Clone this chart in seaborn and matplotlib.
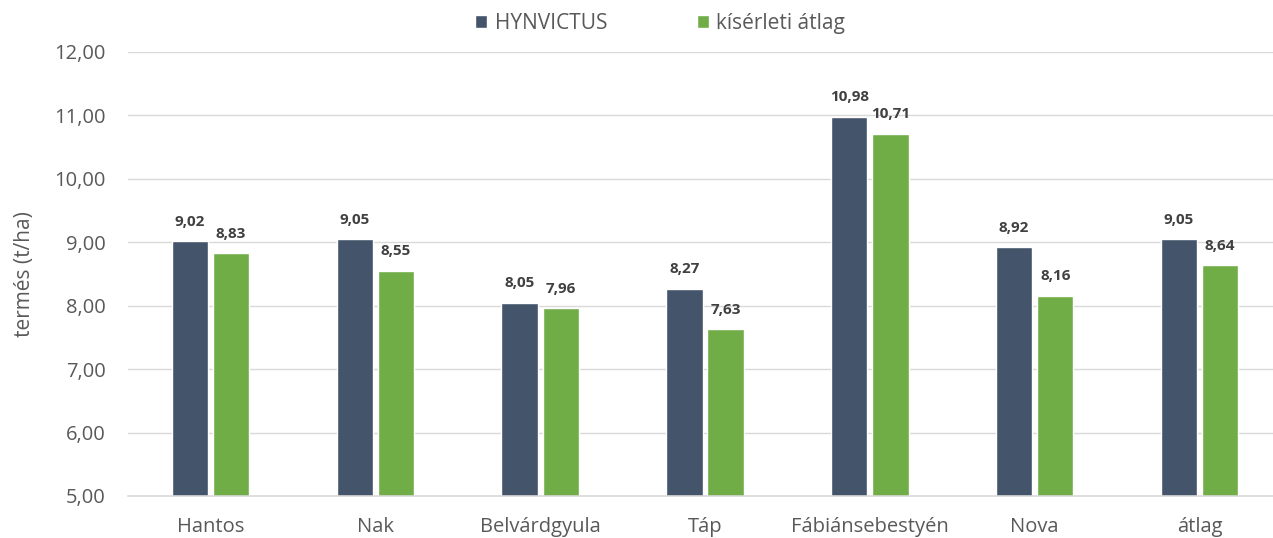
"""Hozam összehasonlítás: HYNVICTUS vs kísérleti átlag."""

import matplotlib
matplotlib.use("Agg")
import matplotlib.pyplot as plt
import matplotlib.ticker as mticker
import pandas as pd
import seaborn as sns

locations = ["Hantos", "Nak", "Belvárdgyula", "Táp", "Fábiánsebestyén", "Nova", "átlag"]
hynvictus = [9.02, 9.05, 8.05, 8.27, 10.98, 8.92, 9.05]
kiserleti_atlag = [8.83, 8.55, 7.96, 7.63, 10.71, 8.16, 8.64]
series_names = ["HYNVICTUS", "kísérleti átlag"]
palette = ["#44546A", "#70AD47"]

df = pd.DataFrame({
    "hely": locations * 2,
    "termes": hynvictus + kiserleti_atlag,
    "sorozat": [series_names[0]] * len(locations) + [series_names[1]] * len(locations),
})

sns.set_theme(style="white")
plt.rcParams["font.family"] = ["Open Sans", "DejaVu Sans"]
text_color = "#595959"

fig = plt.figure(figsize=(12.73, 5.38), dpi=100)
ax = fig.add_axes([128 / 1273, 42 / 538, 1154 / 1273, 444 / 538])

sns.barplot(data=df, x="hely", y="termes", hue="sorozat", palette=palette,
            width=0.5, gap=0.12, ax=ax, legend=True, saturation=1)

ax.set_ylim(5, 12)
ax.set_xlim(-0.5, len(locations) - 0.5)
ax.yaxis.set_major_locator(mticker.MultipleLocator(1))
ax.yaxis.set_major_formatter(mticker.FuncFormatter(lambda v, _: f"{v:.2f}".replace(".", ",")))
ax.grid(axis="y", color="#D9D9D9", linewidth=1)
ax.set_axisbelow(True)
for side in ["top", "right", "left"]:
    ax.spines[side].set_visible(False)
ax.spines["bottom"].set_color("#D9D9D9")
ax.spines["bottom"].set_linewidth(1.2)

ax.tick_params(axis="y", labelsize=14.5, colors=text_color, length=0, pad=16)
ax.tick_params(axis="x", labelsize=14.5, colors=text_color, length=0, pad=15)
ax.set_xlabel("")
ax.set_ylabel("termés (t/ha)", fontsize=15, color=text_color, labelpad=14)

for cont in ax.containers:
    ax.bar_label(cont, fmt=lambda v: f"{v:.2f}".replace(".", ","), padding=9,
                 fontsize=11, fontweight="bold", color="#404040")

handles, labels = ax.get_legend_handles_labels()
ax.legend(handles, labels, loc="center", bbox_to_anchor=(660 / 1273, 1 - 23 / 538),
          bbox_transform=fig.transFigure, ncol=2, frameon=False, fontsize=15,
          handlelength=0.6, handleheight=0.6, handletextpad=0.35, columnspacing=4.3,
          labelcolor=text_color)

fig.savefig("out.png", dpi=100)
